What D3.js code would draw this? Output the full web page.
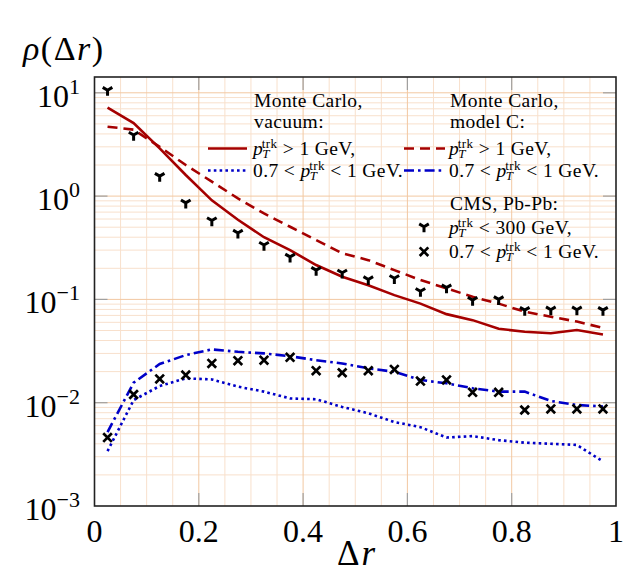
<!DOCTYPE html>
<html>
<head>
<meta charset="utf-8">
<script src="https://cdn.jsdelivr.net/npm/d3@7"></script>
<style>
body { margin: 0; background: white; }
</style>
</head>
<body>
<div id="vis" style="width:626px;height:578px"></div>
<script>
var width = 626;
var height = 578;

var margin = {
    top: 77,
    bottom: 72,
    left: 94.5,
    right: 10
}

// bin centres in delta r
var dr = [0.025, 0.075, 0.125, 0.175, 0.225, 0.275, 0.325, 0.375, 0.425, 0.475,
          0.525, 0.575, 0.625, 0.675, 0.725, 0.775, 0.825, 0.875, 0.925, 0.975];

// Monte Carlo, vacuum
var vacHigh = [7.2, 5.1, 2.9, 1.6, 0.91, 0.59, 0.40, 0.30, 0.215, 0.166,
               0.137, 0.110, 0.091, 0.072, 0.063, 0.052, 0.0486, 0.047, 0.0505, 0.0458];
var vacLow = [0.0034, 0.0106, 0.0145, 0.0172, 0.0168, 0.0143, 0.0128, 0.0110, 0.0108, 0.0091,
              0.0079, 0.0065, 0.0058, 0.0046, 0.00475, 0.00434, 0.0041, 0.0040, 0.0039, 0.0027];

// Monte Carlo, model C
var modHigh = [4.7, 4.4, 3.0, 2.0, 1.38, 0.95, 0.68, 0.505, 0.375, 0.279,
               0.240, 0.192, 0.154, 0.128, 0.106, 0.091, 0.076, 0.068, 0.061, 0.053];
var modLow = [0.0052, 0.0156, 0.0237, 0.0289, 0.0328, 0.0311, 0.0300, 0.0282, 0.0258, 0.0240,
              0.0215, 0.0199, 0.0166, 0.0154, 0.0138, 0.0128, 0.0128, 0.0104, 0.0095, 0.0092];

// CMS, Pb-Pb
var cmsHigh = [10.6, 3.9, 1.56, 0.86, 0.58, 0.44, 0.336, 0.258, 0.192, 0.181,
               0.156, 0.160, 0.120, 0.130, 0.0985, 0.100, 0.0787, 0.0795, 0.0795, 0.0787];
var cmsLow = [0.0046, 0.0120, 0.0170, 0.0185, 0.0240, 0.0255, 0.0258, 0.0275, 0.0204, 0.0195,
              0.0204, 0.0210, 0.0162, 0.0166, 0.0126, 0.0126, 0.0085, 0.0087, 0.0087, 0.0087];

var xTicks = [0, 0.2, 0.4, 0.6, 0.8, 1];
var xTickLabels = ["0", "0.2", "0.4", "0.6", "0.8", "1"];
var yTicks = [1e-3, 1e-2, 1e-1, 1, 10];
var yTickExp = ["\u22123", "\u22122", "\u22121", "0", "1"];

var red = "#a50000";
var blue = "#0000c8";
var serif = "'Liberation Serif', 'DejaVu Serif', serif";

var svg = d3.select('#vis')
    .append('svg')
    .attr('width', width)
    .attr('height', height)
    .style('font-family', serif);

svg.append("rect").attr("width", width).attr("height", height).style("fill", "white");

var x_scale = d3.scaleLinear()
    .domain([0, 1])
    .range([margin.left, width - margin.right]);

var y_scale = d3.scaleLog()
    .domain([1e-3, Math.pow(10, 1.153)])
    .range([height - margin.bottom, margin.top]);

var x0 = x_scale.range()[0], x1 = x_scale.range()[1];
var y0 = y_scale.range()[0], y1 = y_scale.range()[1];

// grid
var minorX = d3.range(1, 20).map(function(i) { return i * 0.05; })
    .filter(function(d, i) { return (i + 1) % 4 != 0; });
var majorX = [0.2, 0.4, 0.6, 0.8];
var minorY = [];
[-3, -2, -1, 0, 1].forEach(function(k) {
    for (var m = 2; m <= 9; m++) {
        var v = m * Math.pow(10, k);
        if (v < y_scale.domain()[1]) minorY.push(v);
    }
});
var majorY = [1e-2, 1e-1, 1, 10];

var grid = svg.append("g");
grid.selectAll("line.mx").data(minorX).enter().append("line")
    .attr("x1", d => x_scale(d)).attr("x2", d => x_scale(d))
    .attr("y1", y0).attr("y2", y1)
    .style("stroke", "#f8e0cc").style("stroke-width", 1);
grid.selectAll("line.my").data(minorY).enter().append("line")
    .attr("y1", d => y_scale(d)).attr("y2", d => y_scale(d))
    .attr("x1", x0).attr("x2", x1)
    .style("stroke", "#f8e0cc").style("stroke-width", 1);
grid.selectAll("line.Mx").data(majorX).enter().append("line")
    .attr("x1", d => x_scale(d)).attr("x2", d => x_scale(d))
    .attr("y1", y0).attr("y2", y1)
    .style("stroke", "#f2c8a2").style("stroke-width", 1);
grid.selectAll("line.My").data(majorY).enter().append("line")
    .attr("y1", d => y_scale(d)).attr("y2", d => y_scale(d))
    .attr("x1", x0).attr("x2", x1)
    .style("stroke", "#f2c8a2").style("stroke-width", 1);

// tick marks on all four sides
var tl = 13;
var ticks = svg.append("g").style("stroke", "#a0a0a0").style("stroke-width", 1.2);
majorX.forEach(function(d) {
    ticks.append("line").attr("x1", x_scale(d)).attr("x2", x_scale(d)).attr("y1", y0).attr("y2", y0 - tl);
    ticks.append("line").attr("x1", x_scale(d)).attr("x2", x_scale(d)).attr("y1", y1).attr("y2", y1 + tl);
});
majorY.forEach(function(d) {
    ticks.append("line").attr("y1", y_scale(d)).attr("y2", y_scale(d)).attr("x1", x0).attr("x2", x0 + tl);
    ticks.append("line").attr("y1", y_scale(d)).attr("y2", y_scale(d)).attr("x1", x1).attr("x2", x1 - tl);
});

// curves
var line = d3.line()
    .x(function(d) { return x_scale(d[0]); })
    .y(function(d) { return y_scale(d[1]); });

function zip(vals) {
    return dr.map(function(d, i) { return [d, vals[i]]; });
}

var curves = [
    { vals: vacHigh, color: red, dash: null },
    { vals: vacLow, color: blue, dash: "2.6,3.2" },
    { vals: modHigh, color: red, dash: "10,6" },
    { vals: modLow, color: blue, dash: "10,4,2.6,4" }
];

curves.forEach(function(c) {
    svg.append("path")
        .datum(zip(c.vals))
        .attr("d", line)
        .style("fill", "none")
        .style("stroke", c.color)
        .style("stroke-width", 2.6)
        .style("stroke-dasharray", c.dash);
});

// markers
var triPath = "M0,0L-4.8,-2.8M0,0L4.8,-2.8M0,0L0,5.6";
var crossPath = "M-4.3,-4.3L4.3,4.3M-4.3,4.3L4.3,-4.3";

svg.selectAll("path.tri").data(zip(cmsHigh)).enter().append("path")
    .attr("class", "tri")
    .attr("transform", d => "translate(" + x_scale(d[0]) + "," + y_scale(d[1]) + ")")
    .attr("d", triPath)
    .style("stroke", "black").style("stroke-width", 3).style("fill", "none");

svg.selectAll("path.crs").data(zip(cmsLow)).enter().append("path")
    .attr("class", "crs")
    .attr("transform", d => "translate(" + x_scale(d[0]) + "," + y_scale(d[1]) + ")")
    .attr("d", crossPath)
    .style("stroke", "black").style("stroke-width", 2.7).style("fill", "none");

// frame
svg.append("rect")
    .attr("x", x0).attr("y", y1)
    .attr("width", x1 - x0).attr("height", y0 - y1)
    .style("fill", "none").style("stroke", "#222").style("stroke-width", 1.6);

// tick labels
svg.selectAll("text.xt").data(xTicks).enter().append("text")
    .attr("class", "xt")
    .attr("x", d => x_scale(d)).attr("y", 541.5)
    .attr("text-anchor", "middle")
    .attr("font-size", 32)
    .text((d, i) => xTickLabels[i]);

var yt = svg.selectAll("text.yt").data(yTicks).enter().append("text")
    .attr("class", "yt")
    .attr("x", 80).attr("y", d => y_scale(d) + 14)
    .attr("text-anchor", "end")
    .attr("font-size", 32);
yt.append("tspan").text("10");
yt.append("tspan").attr("dy", -13).attr("font-size", 22).text((d, i) => yTickExp[i]);

// axis labels
var xl = svg.append("text").attr("x", 357).attr("y", 565).attr("text-anchor", "middle")
    .attr("font-size", 35).attr("letter-spacing", 2);
xl.append("tspan").text("\u0394");
xl.append("tspan").attr("font-style", "italic").text("r");

var yl = svg.append("text").attr("x", 23).attr("y", 60).attr("font-size", 34)
    .attr("letter-spacing", 1.5);
yl.append("tspan").attr("font-style", "italic").text("\u03c1");
yl.append("tspan").text("(\u0394");
yl.append("tspan").attr("font-style", "italic").text("r");
yl.append("tspan").text(")");

// legend
var fs = 19.5;
function plain(x, y, s) {
    svg.append("text").attr("x", x).attr("y", y).attr("font-size", fs)
        .attr("letter-spacing", 0.4).text(s);
}
function entry(x, y, pre, post) {
    var t = svg.append("text").attr("x", x).attr("y", y).attr("font-size", fs)
        .attr("letter-spacing", 0.4);
    if (pre) t.append("tspan").text(pre);
    t.append("tspan").attr("font-style", "italic").text("p");
    t.append("tspan").attr("font-style", "italic").attr("font-size", 13).attr("dy", 3).attr("dx", -1).text("T");
    t.append("tspan").attr("font-size", 13).attr("dy", -10).attr("dx", -8).text("trk");
    t.append("tspan").attr("dy", 7).text(post);
}
function sample(xa, xb, y, color, dash) {
    svg.append("line").attr("x1", xa).attr("x2", xb).attr("y1", y).attr("y2", y)
        .style("stroke", color).style("stroke-width", 2.6).style("stroke-dasharray", dash);
}

plain(254, 106.7, "Monte Carlo,");
plain(254, 128.3, "vacuum:");
sample(208, 247, 148.5, red, null);
entry(253, 155, null, " > 1 GeV,");
sample(208, 247, 170.5, blue, "2.6,3.2");
entry(253, 177.3, "0.7 < ", " < 1 GeV.");

plain(450, 106.7, "Monte Carlo,");
plain(450, 128.3, "model C:");
sample(404, 445, 148.5, red, "10,6");
entry(449, 155, null, " > 1 GeV,");
sample(404, 445, 170.5, blue, "10,4,2.6,4");
entry(449, 177.3, "0.7 < ", " < 1 GeV.");

plain(450, 210, "CMS, Pb-Pb:");
svg.append("path").attr("transform", "translate(424,226.7)").attr("d", triPath)
    .style("stroke", "black").style("stroke-width", 3).style("fill", "none");
entry(449, 234, null, " < 300 GeV,");
svg.append("path").attr("transform", "translate(424,251.7)").attr("d", crossPath)
    .style("stroke", "black").style("stroke-width", 2.7).style("fill", "none");
entry(449, 258.3, "0.7 < ", " < 1 GeV.");
</script>
</body>
</html>
